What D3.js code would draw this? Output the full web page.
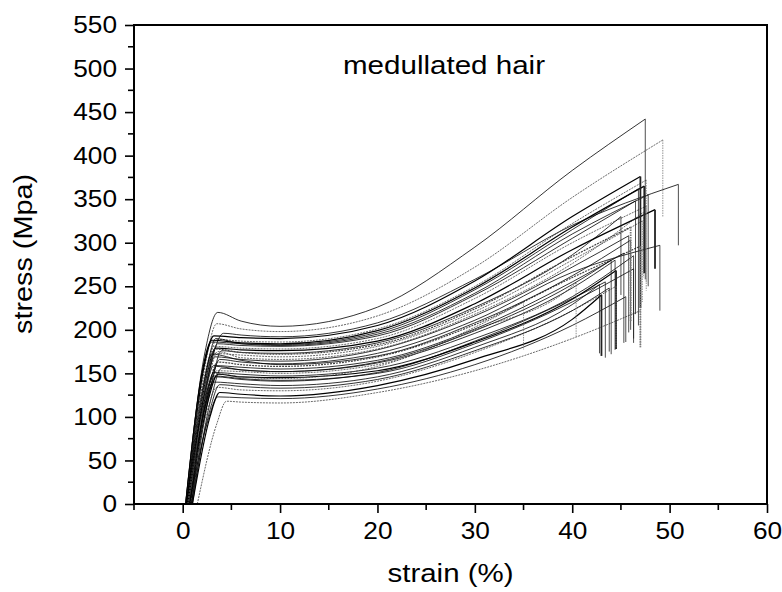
<!DOCTYPE html>
<meta charset='utf-8'>
<html>
<head>
    <title>medullated hair</title>
    <script src='https://d3js.org/d3.v7.min.js'></script>
    <style>
        html,
        body {
            margin: 0;
            padding: 0;
            background: #fff;
        }

        svg {
            display: block;
        }

        text {
            font-family: 'Liberation Sans', Arial, sans-serif;
            fill: #000;
        }
    </style>
</head>
<body>
<script>

    // one column per fibre (34 tensile tests)
    const startStrain = [0.3, 0.5, 0.9, 0.4, 0.6, 0.3, 0.5, 0.7, 0.4, 0.9, 0.3, 0.6, 0.5, 0.8, 0.4, 1.0, 0.6, 0.4, 0.7, 0.5, 0.5, 0.8, 0.6, 1.0, 0.7, 1.5, 0.4, 0.6, 0.5, 0.7, 0.4, 0.6, 0.9, 0.3];
    const kneeStrain = [2.3, 2.4, 2.9, 2.2, 2.5, 2.0, 2.6, 2.3, 2.4, 3.0, 2.1, 2.4, 2.8, 2.6, 2.3, 3.0, 2.5, 2.3, 2.6, 2.4, 2.4, 2.3, 2.5, 2.8, 2.6, 3.5, 2.1, 2.4, 2.4, 2.5, 2.2, 2.6, 2.8, 2.0];
    const kneeStress = [175, 165, 160, 158, 152, 150, 148, 146, 144, 140, 140, 135, 132, 130, 128, 125, 122, 120, 118, 120, 116, 112, 106, 100, 96, 92, 135, 150, 145, 125, 118, 140, 108, 152];
    const yieldStrain = [3.6, 3.5, 4.2, 3.2, 3.5, 3.0, 3.6, 3.2, 3.4, 4.0, 3.0, 3.3, 3.8, 3.6, 3.2, 4.0, 3.5, 3.2, 3.6, 3.3, 3.4, 3.2, 3.5, 3.8, 3.6, 4.5, 3.0, 3.4, 3.3, 3.5, 3.2, 3.6, 3.8, 3.0];
    const yieldStress = [220, 207, 196, 193, 189, 186, 184, 181, 179, 176, 173, 169, 166, 163, 159, 156, 153, 151, 149, 150, 146, 140, 134, 128, 123, 118, 172, 190, 178, 158, 147, 175, 137, 188];
    const stressAt6 = [210, 201, 194, 191, 187, 184, 182, 179, 177, 174, 171, 166, 163, 160, 157, 154, 152, 149, 146, 146, 143, 138, 131, 126, 122, 117, 165, 184, 174, 154, 144, 168, 135, 185];
    const stressAt10 = [204, 198, 192, 190, 186, 183, 181, 178, 176, 173, 169, 164, 161, 158, 155, 152, 150, 147, 145, 144, 141, 136, 130, 124, 121, 116, 160, 182, 172, 152, 142, 166, 133, 184];
    const stressAt20 = [226, 216, 208, 205, 201, 197, 193, 190, 187, 185, 181, 177, 173, 169, 165, 162, 160, 156, 153, 158, 151, 146, 141, 136, 132, 128, 170, 195, 183, 163, 150, 178, 143, 199];
    const stressAt30 = [295, 272, 258, 256, 250, 246, 240, 236, 230, 226, 221, 216, 211, 206, 201, 196, 200, 190, 186, 203, 187, 180, 174, 166, 160, 153, 208, 242, 224, 199, 184, 218, 176, 248];
    const stressAt40 = [383, 352, 320, 330, 322, 315, 305, 300, 292, 286, 280, 272, 266, 260, 255, 248, 250, 238, 235, null, 236, 229, 222, 212, 205, 190, 262, 310, 284, 252, 232, 276, 222, 318];
    const breakStrain = [47.5, 49.3, 50.9, 47.0, 47.6, 46.8, 46.5, 47.6, 48.5, 45.0, 47.2, 45.8, 49.0, 47.0, 45.3, 44.4, 40.4, 46.3, 44.5, 35.0, 43.4, 42.8, 44.5, 43.0, 45.5, 47.0, 46.0, 47.8, 46.0, 44.0, 46.3, 47.3, 43.8, 47.4];
    const breakStress = [442, 418, 367, 376, 372, 362, 348, 342, 338, 330, 325, 308, 297, 296, 288, 280, 254, 285, 268, 232, 255, 252, 250, 240, 238, 222, 303, 355, 318, 280, 270, 335, 248, 365];
    const dropStress = [258, 330, 297, 225, 245, 205, 218, 255, 270, 240, 232, 197, 222, 180, 185, 177, 192, 190, 178, 177, 168, 173, 180, 170, 186, 180, 200, 250, 210, 172, 185, 260, 175, 265];

    const xTicks = [0, 10, 20, 30, 40, 50, 60];
    const xMinorTicks = [-5, 5, 15, 25, 35, 45, 55];
    const yTicks = [0, 50, 100, 150, 200, 250, 300, 350, 400, 450, 500, 550];
    const yMinorTicks = [25, 75, 125, 175, 225, 275, 325, 375, 425, 475, 525];

    const width = 782;
    const height = 592;
    const margin = { left: 134, right: 15, top: 25, bottom: 88 };
    const digitWidth = 14.6;

    const svg = d3.select('body')
        .append('svg')
        .attr('width', width)
        .attr('height', height);

    const x = d3.scaleLinear()
        .domain([-5, 60])
        .range([margin.left, width - margin.right]);

    const y = d3.scaleLinear()
        .domain([0, 550])
        .range([height - margin.bottom, margin.top]);

    // build the point list of each curve
    const curves = startStrain.map(function (s, i) {
        return [
            [s, 0],
            [kneeStrain[i], kneeStress[i]],
            [yieldStrain[i], yieldStress[i]],
            [6, stressAt6[i]],
            [10, stressAt10[i]],
            [20, stressAt20[i]],
            [30, stressAt30[i]],
            [40, stressAt40[i]],
            [breakStrain[i], breakStress[i]]
        ].filter(function (p) { return p[1] !== null && p[0] <= breakStrain[i]; });
    });

    const line = d3.line()
        .x(function (d) { return x(d[0]); })
        .y(function (d) { return y(d[1]); })
        .curve(d3.curveMonotoneX);

    const dotted = function (i) { return i % 3 === 1; };
    const heavy = function (i) { return i % 5 === 3; };

    const plot = svg.append('g');

    plot.selectAll('path.curve')
        .data(curves)
        .enter()
        .append('path')
        .attr('class', 'curve')
        .attr('d', line)
        .attr('fill', 'none')
        .attr('stroke', function (d, i) { return dotted(i) ? '#444' : '#000'; })
        .attr('stroke-width', function (d, i) { return heavy(i) ? 1.2 : 0.8; })
        .attr('stroke-dasharray', function (d, i) { return dotted(i) ? '2,1' : null; });

    // fracture: vertical drop at break strain
    plot.selectAll('line.drop')
        .data(breakStrain)
        .enter()
        .append('line')
        .attr('class', 'drop')
        .attr('x1', function (d) { return x(d); })
        .attr('x2', function (d) { return x(d); })
        .attr('y1', function (d, i) { return y(breakStress[i]); })
        .attr('y2', function (d, i) { return y(dropStress[i]); })
        .attr('stroke', function (d, i) { return dotted(i) ? '#777' : '#222'; })
        .attr('stroke-width', function (d, i) { return heavy(i) ? 1.8 : 0.8; })
        .attr('stroke-dasharray', function (d, i) { return dotted(i) ? '1.5,1' : null; });

    // axes
    const xAxis = svg.append('g')
        .attr('transform', 'translate(0,' + y(0) + ')')
        .call(d3.axisBottom(x).tickValues(xTicks).tickSize(9).tickSizeOuter(0).tickPadding(9));

    const yAxis = svg.append('g')
        .attr('transform', 'translate(' + x(-5) + ',0)')
        .call(d3.axisLeft(y).tickValues(yTicks).tickSize(9).tickSizeOuter(0).tickPadding(8));

    [xAxis, yAxis].forEach(function (g) {
        g.select('.domain').remove();
        g.selectAll('line').attr('stroke', '#000').attr('stroke-width', 1.6);
        g.selectAll('text')
            .attr('font-family', "'Liberation Sans', Arial, sans-serif")
            .attr('font-size', 24)
            .attr('textLength', function (d) { return String(d).length * digitWidth; })
            .attr('lengthAdjust', 'spacingAndGlyphs');
    });

    xAxis.selectAll('line.minor')
        .data(xMinorTicks)
        .enter()
        .append('line')
        .attr('class', 'minor')
        .attr('x1', function (d) { return x(d); })
        .attr('x2', function (d) { return x(d); })
        .attr('y1', 0)
        .attr('y2', 6)
        .attr('stroke', '#000')
        .attr('stroke-width', 1.6);

    yAxis.selectAll('line.minor')
        .data(yMinorTicks)
        .enter()
        .append('line')
        .attr('class', 'minor')
        .attr('x1', 0)
        .attr('x2', -6)
        .attr('y1', function (d) { return y(d); })
        .attr('y2', function (d) { return y(d); })
        .attr('stroke', '#000')
        .attr('stroke-width', 1.6);

    // frame
    svg.append('rect')
        .attr('x', x(-5))
        .attr('y', y(550))
        .attr('width', x(60) - x(-5))
        .attr('height', y(0) - y(550))
        .attr('fill', 'none')
        .attr('stroke', '#000')
        .attr('stroke-width', 2);

    // labels
    svg.append('text')
        .attr('x', 444)
        .attr('y', 74)
        .attr('text-anchor', 'middle')
        .attr('font-size', 25)
        .attr('textLength', 202)
        .attr('lengthAdjust', 'spacingAndGlyphs')
        .text('medullated hair');

    svg.append('text')
        .attr('x', (x(-5) + x(60)) / 2)
        .attr('y', 582)
        .attr('text-anchor', 'middle')
        .attr('font-size', 25)
        .attr('textLength', 126)
        .attr('lengthAdjust', 'spacingAndGlyphs')
        .text('strain (%)');

    svg.append('text')
        .attr('transform', 'translate(32,254) rotate(-90)')
        .attr('text-anchor', 'middle')
        .attr('font-size', 25)
        .attr('textLength', 160)
        .attr('lengthAdjust', 'spacingAndGlyphs')
        .text('stress (Mpa)');

</script>
</body>
</html>
